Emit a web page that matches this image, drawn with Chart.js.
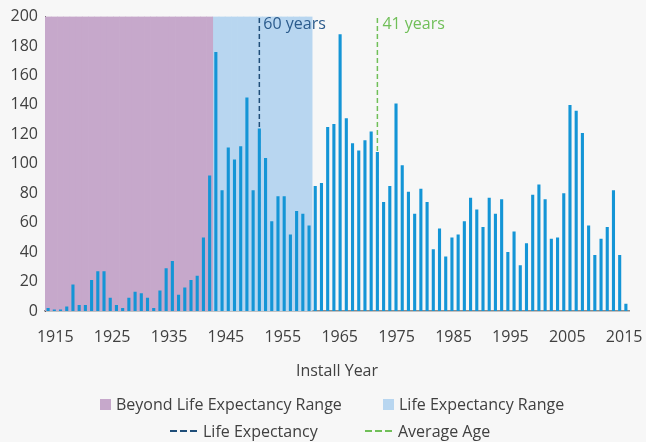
<!DOCTYPE html>
<html>
<head>
<meta charset="utf-8">
<title>Install Year</title>
<script src="https://cdn.jsdelivr.net/npm/chart.js@4.4.0/dist/chart.umd.min.js"></script>
<style>
  html, body { margin: 0; padding: 0; background: #f7f7f7; }
  #wrap { position: relative; width: 646px; height: 442px; font-family: 'Open Sans', sans-serif; color: #404040; }
  .leg { position: absolute; display: flex; align-items: center; height: 20px; font-size: 16px; white-space: nowrap; }
  .box { width: 11px; height: 11px; margin-right: 5px; }
  .dash { width: 27px; height: 2px; margin-right: 6px; }
</style>
</head>
<body>
<div id="wrap">
  <canvas id="myChart" width="646" height="442"></canvas>
  <div class="leg" style="left:100px; top:394px"><span class="box" style="background:#c6a8cb"></span>Beyond Life Expectancy Range</div>
  <div class="leg" style="left:383px; top:394px"><span class="box" style="background:#b8d6f0"></span>Life Expectancy Range</div>
  <div class="leg" style="left:170px; top:421px"><span class="dash" style="background:repeating-linear-gradient(to right, #1f4e79 0 7px, transparent 7px 10px)"></span>Life Expectancy</div>
  <div class="leg" style="left:365px; top:421px"><span class="dash" style="background:repeating-linear-gradient(to right, #70bf58 0 7px, transparent 7px 10px)"></span>Average Age</div>
</div>
<script>
'use strict'

/* global Chart */

const years = [
  '1922', '1923', '1924', '1925', '1926', '1927', '1928', '1929', '1930', '1931',
  '1932', '1933', '1934', '1935', '1936', '1937', '1938', '1939', '1940', '1941',
  '1942', '1943', '1944', '1945', '1946', '1947', '1948', '1949', '1950', '1951',
  '1952', '1953', '1954', '1955', '1956', '1957', '1958', '1959', '1960', '1961',
  '1962', '1963', '1964', '1965', '1966', '1967', '1968', '1969', '1970', '1971',
  '1972', '1973', '1974', '1975', '1976', '1977', '1978', '1979', '1980', '1981',
  '1982', '1983', '1984', '1985', '1986', '1987', '1988', '1989', '1990', '1991',
  '1992', '1993', '1994', '1995', '1996', '1997', '1998', '1999', '2000', '2001',
  '2002', '2003', '2004', '2005', '2006', '2007', '2008', '2009', '2010', '2011',
  '2012', '2013', '2014', '2015'
]

const installs = [
  2, 1, 1, 3, 18, 4, 4, 21, 27, 27,
  9, 4, 2, 9, 13, 12, 9, 2, 14, 29,
  34, 11, 16, 21, 24, 50, 92, 176, 82, 111,
  103, 112, 145, 82, 124, 104, 61, 78, 78, 52,
  68, 66, 58, 85, 87, 125, 127, 188, 131, 114,
  109, 116, 122, 108, 74, 85, 141, 99, 81, 66,
  83, 74, 42, 56, 37, 50, 52, 61, 77, 69,
  57, 77, 66, 76, 40, 54, 31, 46, 79, 86,
  76, 49, 50, 80, 140, 136, 121, 58, 38, 49,
  57, 82, 38, 5
]

const tickYears = [1915, 1925, 1935, 1945, 1955, 1965, 1975, 1985, 1995, 2005, 2015]

const beyondRange = ['1922', '1948']
const lifeRange = ['1949', '1964']
const lifeExpectancyYear = '1956'
const lifeExpectancyText = '60 years'
const averageAgeYear = '1975'
const averageAgeText = '41 years'
const yMax = 200

const font = "'Open Sans', sans-serif"
const textColor = '#404040'

function rangeFill (range) {
  return years.map((y) => (y >= range[0] && y <= range[1]) ? yMax : null)
}

function marker (year) {
  return [{ x: year, y: 0 }, { x: year, y: yMax }]
}

const lineNotes = {
  id: 'lineNotes',
  afterDatasetsDraw (chart) {
    const ctx = chart.ctx
    const x = chart.scales.x
    const top = chart.chartArea.top
    ctx.save()
    ctx.font = '16px ' + font
    ctx.textBaseline = 'middle'
    ctx.fillStyle = '#2b5b8c'
    ctx.fillText(lifeExpectancyText, x.getPixelForValue(years.indexOf(lifeExpectancyYear)) + 4, top + 8)
    ctx.fillStyle = '#70bf58'
    ctx.fillText(averageAgeText, x.getPixelForValue(years.indexOf(averageAgeYear)) + 5, top + 8)
    ctx.restore()
  }
}

const myChartCtx = document.querySelector('#myChart')

const myChart = new Chart(myChartCtx, {
  type: 'bar',
  data: {
    labels: years,
    datasets: [{
      label: 'Installs',
      data: installs,
      backgroundColor: '#1495d6',
      barPercentage: 0.5,
      categoryPercentage: 1,
      grouped: false,
      order: 1
    }, {
      type: 'line',
      label: 'Life Expectancy',
      data: marker(lifeExpectancyYear),
      borderColor: '#1f4e79',
      borderWidth: 1.5,
      borderDash: [5, 3],
      pointRadius: 0,
      order: 2
    }, {
      type: 'line',
      label: 'Average Age',
      data: marker(averageAgeYear),
      borderColor: '#70bf58',
      borderWidth: 1.5,
      borderDash: [5, 3],
      pointRadius: 0,
      order: 2
    }, {
      label: 'Beyond Life Expectancy Range',
      data: rangeFill(beyondRange),
      backgroundColor: '#c6a8cb',
      barPercentage: 1,
      categoryPercentage: 1,
      grouped: false,
      order: 4
    }, {
      label: 'Life Expectancy Range',
      data: rangeFill(lifeRange),
      backgroundColor: '#b8d6f0',
      barPercentage: 1,
      categoryPercentage: 1,
      grouped: false,
      order: 4
    }]
  },
  options: {
    responsive: false,
    animation: false,
    layout: {
      padding: { left: 10, right: 17, top: 16, bottom: 61 }
    },
    plugins: {
      legend: { display: false },
      tooltip: { enabled: false }
    },
    scales: {
      x: {
        type: 'category',
        display: false,
        offset: true
      },
      xTicks: {
        type: 'linear',
        axis: 'x',
        position: 'bottom',
        offset: false,
        min: 1913.2,
        max: 2015.85,
        grid: { display: false, drawTicks: false, offset: false },
        border: { display: true, color: '#8c8c8c', width: 1.5 },
        afterBuildTicks (scale) {
          scale.ticks = tickYears.map((v) => ({ value: v }))
        },
        afterFit (scale) {
          scale.paddingLeft = 0
          scale.paddingRight = 0
          scale.height = 70
        },
        ticks: {
          autoSkip: false,
          maxRotation: 0,
          padding: 17,
          color: textColor,
          font: { family: font, size: 16 },
          callback: (v) => String(v)
        },
        title: {
          display: true,
          text: 'Install Year',
          color: textColor,
          font: { family: font, size: 16 },
          padding: { top: 14.5, bottom: 0 }
        }
      },
      y: {
        min: 0,
        max: yMax,
        grid: { display: false, drawTicks: false },
        border: { display: true, color: '#595959', width: 1 },
        afterFit (scale) {
          scale.width = 35
        },
        ticks: {
          stepSize: 20,
          padding: 7,
          color: textColor,
          font: { family: font, size: 16 }
        }
      }
    }
  },
  plugins: [lineNotes]
})
</script>
</body>
</html>
